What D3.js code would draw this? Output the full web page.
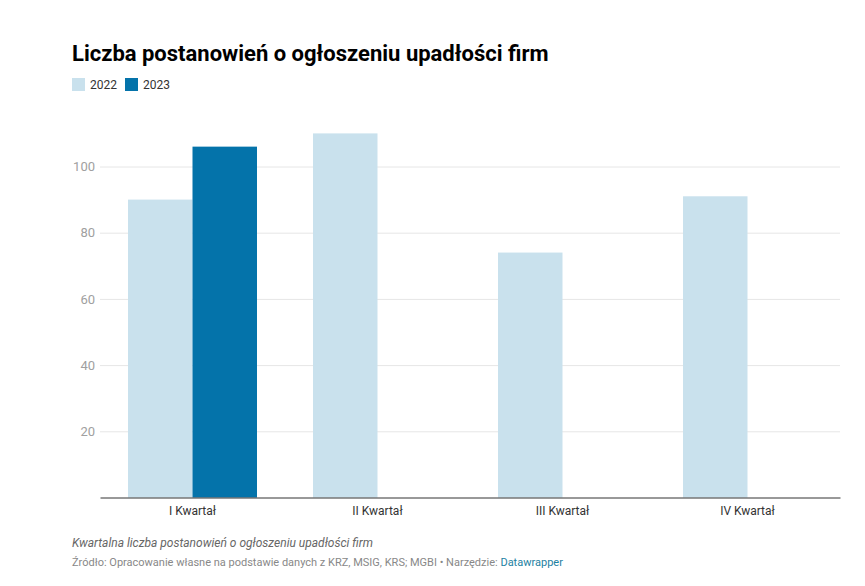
<!DOCTYPE html>
<html><head><meta charset="utf-8">
<script src="https://cdn.jsdelivr.net/npm/d3@7"></script>
<style>
body{margin:0;background:#fff;font-family:Roboto,"Noto Sans",sans-serif;}
</style></head>
<body><svg id="c" width="865" height="586"></svg>
<script>
const categories = ["I Kwartał","II Kwartał","III Kwartał","IV Kwartał"];
const seriesNames = ["2022","2023"];
const values2022 = [90,110,74,91];
const values2023 = [106,null,null,null];
const yTicks = [20,40,60,80,100];
const colors = ["#c9e1ed","#0473aa"];

const svg = d3.select("#c");
const m = {l:100, r:840, t:110, b:497.5};
const x = d3.scaleBand().domain(categories).range([m.l,m.r]).paddingInner(0).paddingOuter(0);
const bw = x.bandwidth();
const x1 = d3.scaleBand().domain(seriesNames).range([bw*0.1514, bw*(1-0.1514)]);
const y = d3.scaleLinear().domain([0,112]).range([m.b, m.b-112*3.31]);

svg.append("text").attr("x",72).attr("y",61).text("Liczba postanowień o ogłoszeniu upadłości firm")
  .attr("font-size",22).attr("font-weight",700).attr("fill","#000").attr("font-family","Roboto");

const lg = svg.append("g");
seriesNames.forEach((s,i)=>{
  const ox = 72 + i*53;
  lg.append("rect").attr("x",ox).attr("y",78).attr("width",13).attr("height",13).attr("fill",colors[i]);
  lg.append("text").attr("x",ox+18).attr("y",89).text(s).attr("font-size",12).attr("fill","#333");
});

// grid
const ga = svg.append("g").attr("transform",`translate(${m.l},0)`)
  .call(d3.axisLeft(y).tickValues(yTicks).tickSize(-(m.r-m.l)).tickPadding(5));
ga.select(".domain").remove();
ga.selectAll(".tick line").attr("stroke","#e6e6e6");
ga.selectAll(".tick text").attr("font-size",13).attr("fill","#a0a0a0").attr("font-family","Roboto");

const data = categories.map((c,i)=>({c, vals:[values2022[i],values2023[i]]}));
const g = svg.append("g");
data.forEach(d=>{
  d.vals.forEach((v,j)=>{
    if(v==null) return;
    g.append("rect").attr("x",x(d.c)+x1(seriesNames[j])).attr("width",x1.bandwidth())
      .attr("y",y(v)).attr("height",y(0)-y(v)).attr("fill",colors[j]);
  });
});

const xa = svg.append("g").attr("transform",`translate(0,${m.b})`)
  .call(d3.axisBottom(x).tickSize(0).tickPadding(9));
xa.select(".domain").attr("stroke","#333").attr("stroke-width",1);
xa.selectAll(".tick text").attr("font-size",12).attr("fill","#333").attr("font-family","Roboto");

svg.append("text").attr("x",72).attr("y",547).text("Kwartalna liczba postanowień o ogłoszeniu upadłości firm")
  .attr("font-size",12).attr("font-style","italic").attr("fill","#666");
const src = svg.append("text").attr("x",72).attr("y",566).attr("font-size",11).attr("fill","#888");
src.append("tspan").text("Źródło: Opracowanie własne na podstawie danych z KRZ, MSIG, KRS; MGBI • Narzędzie: ");
src.append("tspan").text("Datawrapper").attr("fill","#1d81a2");
</script></body></html>
